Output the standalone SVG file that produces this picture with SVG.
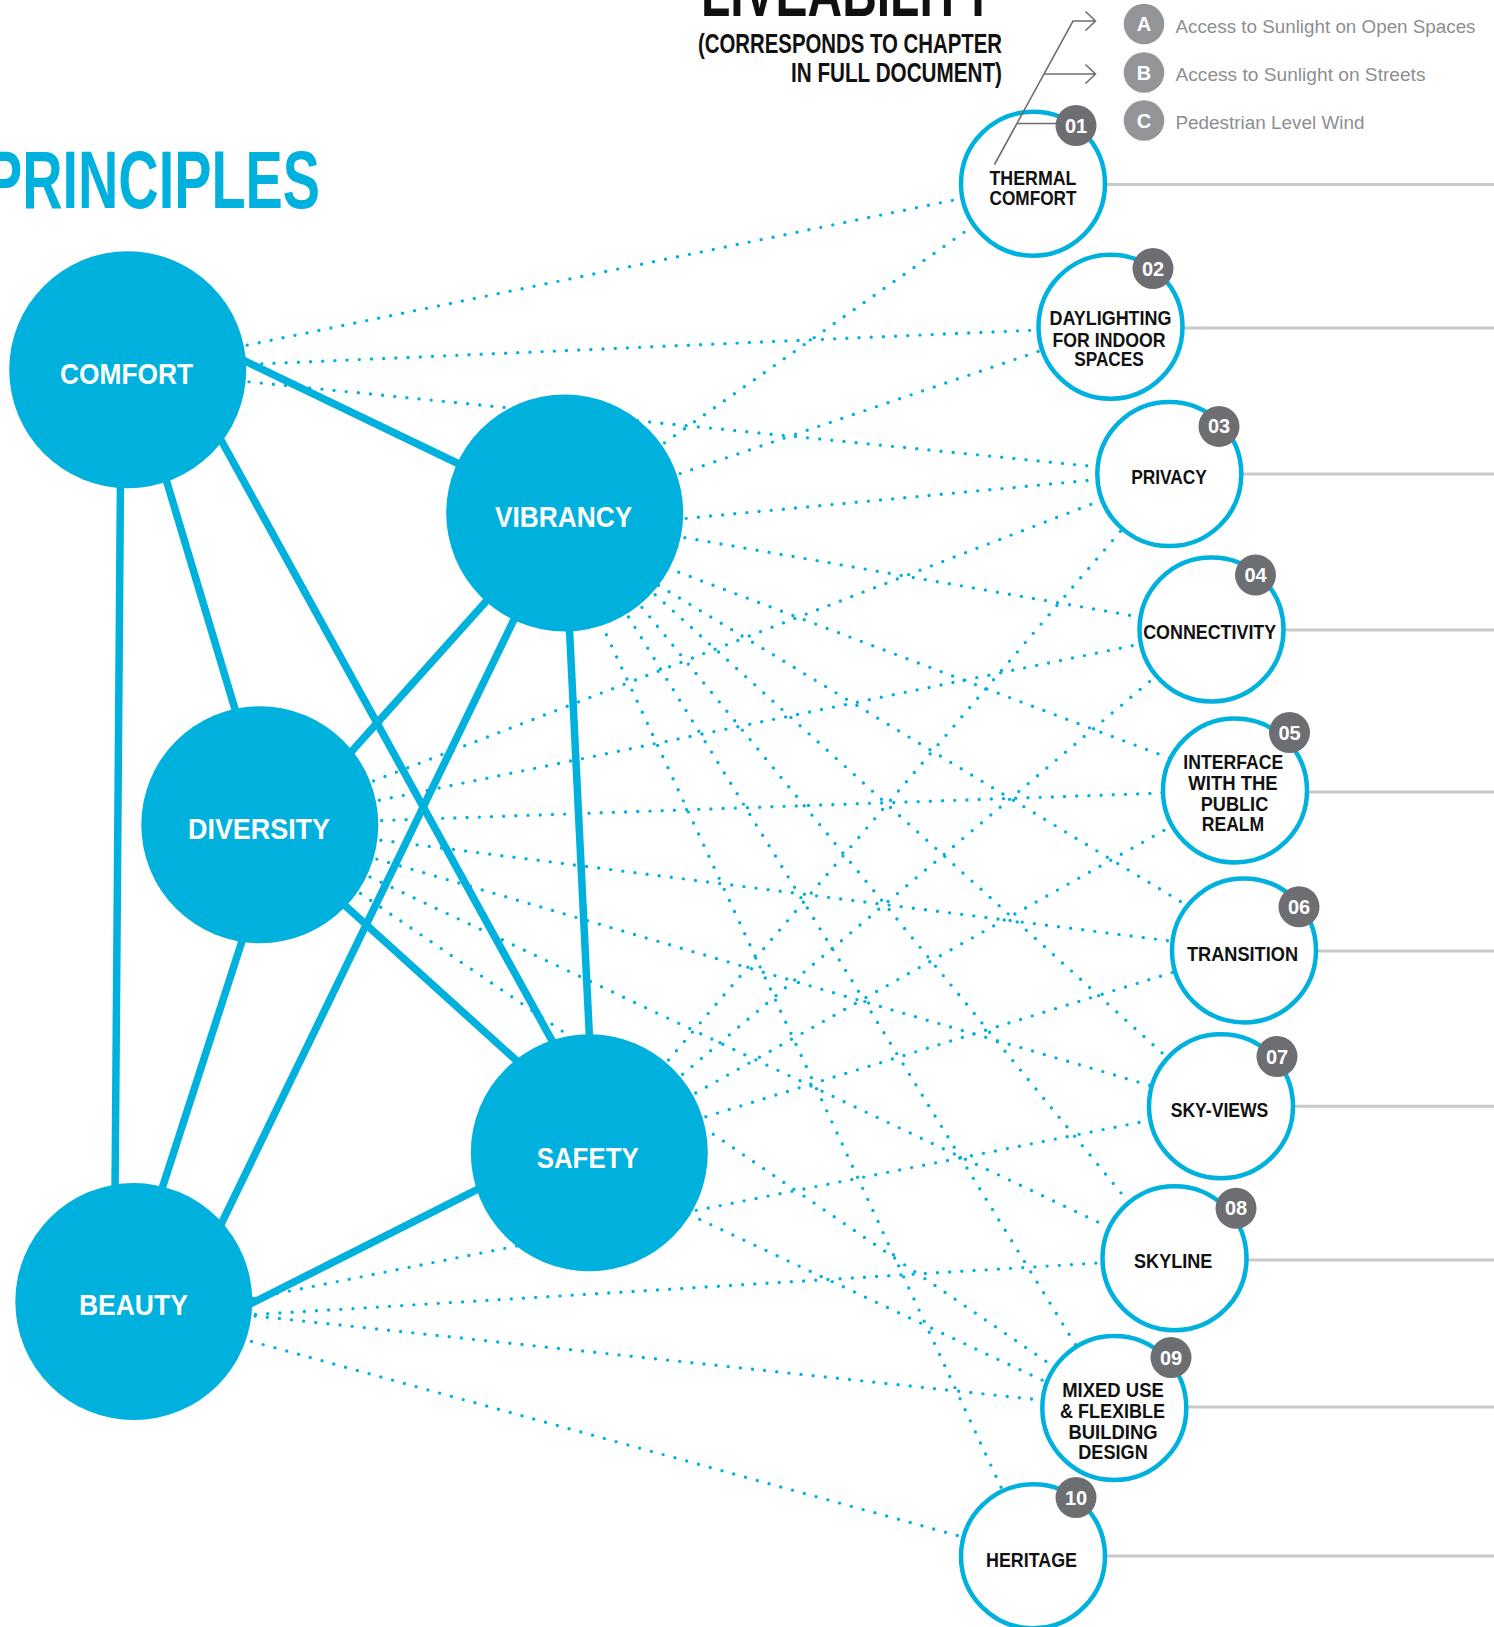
<svg xmlns="http://www.w3.org/2000/svg" width="1494" height="1627" viewBox="0 0 1494 1627">
  <style>
    .dot { fill: none; stroke: #00b1de; stroke-width: 3.4; stroke-dasharray: 0 12.2; stroke-linecap: round; }
    .bar { fill: none; stroke: #00b1de; stroke-width: 7.5; stroke-linecap: butt; }
    .hub { fill: #00b1de; }
    .hub-label { font-family: "Liberation Sans", Arial, sans-serif; font-weight: bold; font-size: 30px; fill: #ffffff; text-anchor: middle; }
    .ring { fill: #ffffff; stroke: #00b1de; stroke-width: 4.5; }
    .ring-label { font-family: "Liberation Sans", Arial, sans-serif; font-weight: bold; font-size: 20.5px; fill: #111111; text-anchor: middle; }
    .badge { fill: #6d6e71; }
    .badge-num { font-family: "Liberation Sans", Arial, sans-serif; font-weight: bold; font-size: 20px; fill: #ffffff; text-anchor: middle; }
    .leader { stroke: #c9cacb; stroke-width: 3; }
    .key { fill: #939598; }
    .key-letter { font-family: "Liberation Sans", Arial, sans-serif; font-weight: bold; font-size: 20px; fill: #ffffff; text-anchor: middle; }
    .key-text { font-family: "Liberation Sans", Arial, sans-serif; font-size: 18px; fill: #8c8e90; }
    .pointer { fill: none; stroke: #6d6e71; stroke-width: 1.6; }
    .head { font-family: "Liberation Sans", Arial, sans-serif; font-weight: bold; fill: #111111; }
  </style>

  <rect width="1494" height="1627" fill="#ffffff"/>

  <!-- connectors: dotted relations between principles and chapters -->
  <g id="connectors">
    <g id="dotted-links">
      <!-- comfort -->
      <line class="dot" x1="127.7" y1="369.7" x2="1033" y2="183.8"/>
      <line class="dot" x1="127.7" y1="369.7" x2="1110.5" y2="326.8"/>
      <line class="dot" x1="127.7" y1="369.7" x2="1169.3" y2="474.1"/>
      <!-- vibrancy -->
      <line class="dot" x1="564.7" y1="513" x2="1033" y2="183.8"/>
      <line class="dot" x1="564.7" y1="513" x2="1110.5" y2="326.8"/>
      <line class="dot" x1="564.7" y1="529.8" x2="1169.3" y2="472.8"/>
      <line class="dot" x1="564.7" y1="516.7" x2="1211.5" y2="629.5"/>
      <line class="dot" x1="564.7" y1="529" x2="1235" y2="783"/>
      <line class="dot" x1="564.7" y1="528.5" x2="1244" y2="940"/>
      <line class="dot" x1="564.7" y1="513" x2="1221" y2="1106.2"/>
      <line class="dot" x1="564.7" y1="513" x2="1174.5" y2="1258.3"/>
      <line class="dot" x1="564.7" y1="513" x2="1114.3" y2="1407.9"/>
      <line class="dot" x1="550" y1="513" x2="1033" y2="1556.3"/>
      <!-- diversity -->
      <line class="dot" x1="259.8" y1="824.8" x2="1169.3" y2="474.1"/>
      <line class="dot" x1="259.8" y1="824.8" x2="1211.5" y2="629.5"/>
      <line class="dot" x1="259.8" y1="824.8" x2="1235" y2="790.5"/>
      <line class="dot" x1="259.8" y1="824.8" x2="1244" y2="950.4"/>
      <line class="dot" x1="259.8" y1="824.8" x2="1221" y2="1106.2"/>
      <line class="dot" x1="259.8" y1="824.8" x2="1174.5" y2="1258.3"/>
      <line class="dot" x1="259.8" y1="824.8" x2="1114.3" y2="1407.9"/>
      <!-- safety -->
      <line class="dot" x1="589.3" y1="1152.7" x2="1169.3" y2="474.1"/>
      <line class="dot" x1="589.3" y1="1152.7" x2="1211.5" y2="629.5"/>
      <line class="dot" x1="589.3" y1="1152.7" x2="1235" y2="790.5"/>
      <line class="dot" x1="589.3" y1="1152.7" x2="1244" y2="950.4"/>
      <line class="dot" x1="589.3" y1="1167.6" x2="1114.3" y2="1414"/>
      <!-- beauty -->
      <line class="dot" x1="133.8" y1="1322" x2="1221" y2="1106.2"/>
      <line class="dot" x1="133.8" y1="1322" x2="1174.5" y2="1258.3"/>
      <line class="dot" x1="133.8" y1="1303" x2="1114.3" y2="1407.9"/>
      <line class="dot" x1="133.8" y1="1309" x2="1033" y2="1556.3"/>
    </g>

    <g id="solid-links">
      <line class="bar" x1="235.6" y1="356.5" x2="468.4" y2="468.5"/>
      <line class="bar" x1="163.3" y1="470.2" x2="238.3" y2="720.1"/>
      <line class="bar" x1="215.2" y1="429.5" x2="557.8" y2="1051.1"/>
      <line class="bar" x1="120.5" y1="476" x2="115" y2="1196"/>
      <line class="bar" x1="495.6" y1="590.8" x2="344.8" y2="759"/>
      <line class="bar" x1="519.8" y1="607.6" x2="216.8" y2="1233"/>
      <line class="bar" x1="569" y1="619" x2="589.9" y2="1046.4"/>
      <line class="bar" x1="337.8" y1="899" x2="525.6" y2="1068.8"/>
      <line class="bar" x1="245.4" y1="930.7" x2="159.2" y2="1197.3"/>
      <line class="bar" x1="486.9" y1="1184.6" x2="241.4" y2="1308.5"/>
    </g>
  </g>

  <!-- principles -->
  <g id="comfort">
    <circle class="hub" cx="127.7" cy="369.7" r="118.5"/>
    <text class="hub-label" x="126.5" y="384" textLength="133" lengthAdjust="spacingAndGlyphs">COMFORT</text>
  </g>
  <g id="vibrancy">
    <circle class="hub" cx="564.7" cy="513" r="118.5"/>
    <text class="hub-label" x="563.7" y="527" textLength="137.5" lengthAdjust="spacingAndGlyphs">VIBRANCY</text>
  </g>
  <g id="diversity">
    <circle class="hub" cx="259.8" cy="824.8" r="118.5"/>
    <text class="hub-label" x="259" y="839" textLength="142" lengthAdjust="spacingAndGlyphs">DIVERSITY</text>
  </g>
  <g id="safety">
    <circle class="hub" cx="589.3" cy="1152.7" r="118.5"/>
    <text class="hub-label" x="587.7" y="1168" textLength="102" lengthAdjust="spacingAndGlyphs">SAFETY</text>
  </g>
  <g id="beauty">
    <circle class="hub" cx="133.8" cy="1301.6" r="118.5"/>
    <text class="hub-label" x="133.4" y="1315" textLength="109" lengthAdjust="spacingAndGlyphs">BEAUTY</text>
  </g>

  <!-- chapters -->
  <g id="ch01-thermal-comfort">
    <line class="leader" x1="1033" y1="184.5" x2="1494" y2="184.5"/>
    <circle class="ring" cx="1033" cy="183.8" r="72"/>
    <text class="ring-label" x="1033" y="185" textLength="87" lengthAdjust="spacingAndGlyphs">THERMAL</text>
    <text class="ring-label" x="1033" y="204.5" textLength="87" lengthAdjust="spacingAndGlyphs">COMFORT</text>
    <circle class="badge" cx="1076" cy="125.5" r="20.5"/>
    <text class="badge-num" x="1076" y="132.5">01</text>
  </g>
  <g id="ch02-daylighting">
    <line class="leader" x1="1110.5" y1="328" x2="1494" y2="328"/>
    <circle class="ring" cx="1110.5" cy="326.8" r="72"/>
    <text class="ring-label" x="1110.5" y="325" textLength="122" lengthAdjust="spacingAndGlyphs">DAYLIGHTING</text>
    <text class="ring-label" x="1109" y="346.5" textLength="113" lengthAdjust="spacingAndGlyphs">FOR INDOOR</text>
    <text class="ring-label" x="1109" y="366" textLength="69.6" lengthAdjust="spacingAndGlyphs">SPACES</text>
    <circle class="badge" cx="1153" cy="268.5" r="20.5"/>
    <text class="badge-num" x="1153" y="275.5">02</text>
  </g>
  <g id="ch03-privacy">
    <line class="leader" x1="1169.3" y1="474.1" x2="1494" y2="474.1"/>
    <circle class="ring" cx="1169.3" cy="474.1" r="72"/>
    <text class="ring-label" x="1169" y="484" textLength="75.7" lengthAdjust="spacingAndGlyphs">PRIVACY</text>
    <circle class="badge" cx="1219" cy="426.4" r="20.5"/>
    <text class="badge-num" x="1219" y="433.4">03</text>
  </g>
  <g id="ch04-connectivity">
    <line class="leader" x1="1211.5" y1="630" x2="1494" y2="630"/>
    <circle class="ring" cx="1211.5" cy="629.5" r="72"/>
    <text class="ring-label" x="1209.7" y="639" textLength="133" lengthAdjust="spacingAndGlyphs">CONNECTIVITY</text>
    <circle class="badge" cx="1255.5" cy="575" r="20.5"/>
    <text class="badge-num" x="1255.5" y="582">04</text>
  </g>
  <g id="ch05-interface">
    <line class="leader" x1="1235" y1="792" x2="1494" y2="792"/>
    <circle class="ring" cx="1235" cy="790.5" r="72"/>
    <text class="ring-label" x="1233.3" y="769.3" textLength="100" lengthAdjust="spacingAndGlyphs">INTERFACE</text>
    <text class="ring-label" x="1233" y="790" textLength="89.4" lengthAdjust="spacingAndGlyphs">WITH THE</text>
    <text class="ring-label" x="1234.5" y="810.5" textLength="67.6" lengthAdjust="spacingAndGlyphs">PUBLIC</text>
    <text class="ring-label" x="1233" y="831" textLength="62.6" lengthAdjust="spacingAndGlyphs">REALM</text>
    <circle class="badge" cx="1289.5" cy="732.5" r="20.5"/>
    <text class="badge-num" x="1289.5" y="739.5">05</text>
  </g>
  <g id="ch06-transition">
    <line class="leader" x1="1244" y1="951" x2="1494" y2="951"/>
    <circle class="ring" cx="1244" cy="950.4" r="72"/>
    <text class="ring-label" x="1242.5" y="960.5" textLength="111" lengthAdjust="spacingAndGlyphs">TRANSITION</text>
    <circle class="badge" cx="1299" cy="906.8" r="20.5"/>
    <text class="badge-num" x="1299" y="913.8">06</text>
  </g>
  <g id="ch07-sky-views">
    <line class="leader" x1="1221" y1="1106.2" x2="1494" y2="1106.2"/>
    <circle class="ring" cx="1221" cy="1106.2" r="72"/>
    <text class="ring-label" x="1219.5" y="1116.7" textLength="97.6" lengthAdjust="spacingAndGlyphs">SKY-VIEWS</text>
    <circle class="badge" cx="1277" cy="1056.5" r="20.5"/>
    <text class="badge-num" x="1277" y="1063.5">07</text>
  </g>
  <g id="ch08-skyline">
    <line class="leader" x1="1174.5" y1="1260" x2="1494" y2="1260"/>
    <circle class="ring" cx="1174.5" cy="1258.3" r="72"/>
    <text class="ring-label" x="1173.2" y="1268.3" textLength="78.3" lengthAdjust="spacingAndGlyphs">SKYLINE</text>
    <circle class="badge" cx="1236" cy="1208.3" r="20.5"/>
    <text class="badge-num" x="1236" y="1215.3">08</text>
  </g>
  <g id="ch09-mixed-use">
    <line class="leader" x1="1114.3" y1="1407" x2="1494" y2="1407"/>
    <circle class="ring" cx="1114.3" cy="1407.9" r="72"/>
    <text class="ring-label" x="1113" y="1397" textLength="101.6" lengthAdjust="spacingAndGlyphs">MIXED USE</text>
    <text class="ring-label" x="1112.5" y="1418" textLength="105" lengthAdjust="spacingAndGlyphs">&amp; FLEXIBLE</text>
    <text class="ring-label" x="1113" y="1438.5" textLength="89" lengthAdjust="spacingAndGlyphs">BUILDING</text>
    <text class="ring-label" x="1113" y="1459" textLength="69.5" lengthAdjust="spacingAndGlyphs">DESIGN</text>
    <circle class="badge" cx="1171" cy="1357.5" r="20.5"/>
    <text class="badge-num" x="1171" y="1364.5">09</text>
  </g>
  <g id="ch10-heritage">
    <line class="leader" x1="1033" y1="1556" x2="1494" y2="1556"/>
    <circle class="ring" cx="1033" cy="1556.3" r="72"/>
    <text class="ring-label" x="1031.5" y="1566.7" textLength="91" lengthAdjust="spacingAndGlyphs">HERITAGE</text>
    <circle class="badge" cx="1076" cy="1497.5" r="20.5"/>
    <text class="badge-num" x="1076" y="1504.5">10</text>
  </g>

  <!-- key for the thermal comfort sub-topics -->
  <g id="thermal-key">
    <path class="pointer" d="M994.5 164.5 L1073 21 L1095.5 21 M1085.5 11.5 L1095.5 21 L1085.5 30.5"/>
    <path class="pointer" d="M1044 74 L1095.5 74 M1085.5 64.5 L1095.5 74 L1085.5 83.5"/>
    <path class="pointer" d="M1017 123.5 L1056 123.5"/>
    <circle class="key" cx="1144" cy="24" r="20.3"/>
    <text class="key-letter" x="1144" y="31">A</text>
    <text class="key-text" x="1175.5" y="32.5" textLength="300" lengthAdjust="spacingAndGlyphs">Access to Sunlight on Open Spaces</text>
    <circle class="key" cx="1144" cy="72.5" r="20.3"/>
    <text class="key-letter" x="1144" y="79.5">B</text>
    <text class="key-text" x="1175.5" y="80.5" textLength="250" lengthAdjust="spacingAndGlyphs">Access to Sunlight on Streets</text>
    <circle class="key" cx="1144" cy="120.5" r="20.3"/>
    <text class="key-letter" x="1144" y="127.5">C</text>
    <text class="key-text" x="1175.5" y="128.5" textLength="189" lengthAdjust="spacingAndGlyphs">Pedestrian Level Wind</text>
  </g>

  <!-- headings -->
  <g id="headings">
    <text class="head" x="701" y="16" font-size="66" textLength="293" lengthAdjust="spacingAndGlyphs">LIVEABILITY</text>
    <text class="head" x="1002" y="53" font-size="28" text-anchor="end" textLength="304" lengthAdjust="spacingAndGlyphs">(CORRESPONDS TO CHAPTER</text>
    <text class="head" x="1002" y="81.7" font-size="28" text-anchor="end" textLength="211" lengthAdjust="spacingAndGlyphs">IN FULL DOCUMENT)</text>
    <text class="head" x="-15" y="208.3" font-size="82" fill="#00b1de" style="fill:#00b1de" textLength="335" lengthAdjust="spacingAndGlyphs">PRINCIPLES</text>
  </g>
</svg>
